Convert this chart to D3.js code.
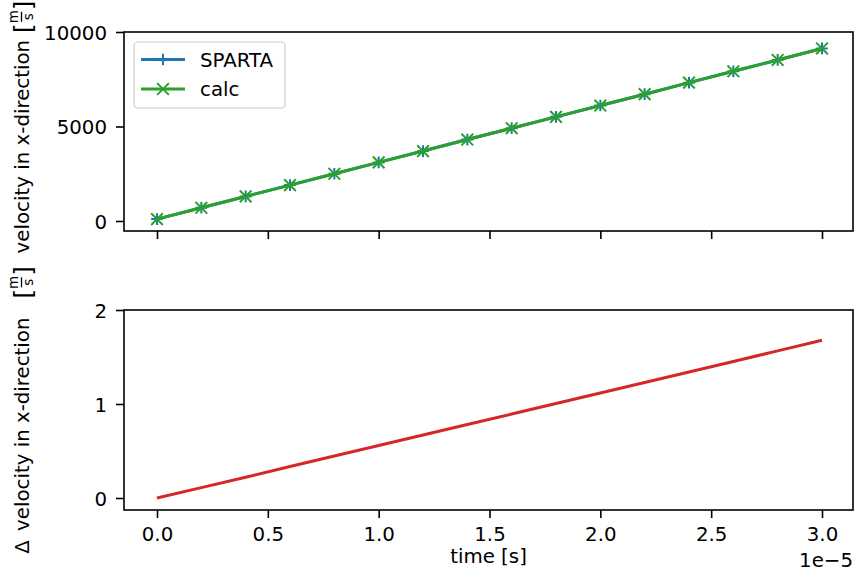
<!DOCTYPE html>
<html><head><meta charset="utf-8">
<script src="https://cdn.jsdelivr.net/npm/d3@7"></script>
<style>
body{margin:0;background:#fff;}
text{font-family:"DejaVu Sans",sans-serif;fill:#000;}
</style></head>
<body>
<svg id="c" width="855" height="574"></svg>
<script>
// ---- data ----
const time = [0, 2e-6, 4e-6, 6e-6, 8e-6, 1e-5, 1.2e-5, 1.4e-5, 1.6e-5, 1.8e-5, 2e-5, 2.2e-5, 2.4e-5, 2.6e-5, 2.8e-5, 3e-5];
const spartaVel = [100, 700, 1300, 1900, 2500, 3100, 3700, 4310, 4910, 5510, 6110, 6710, 7320, 7920, 8520, 9130];
const calcVel   = [100, 700, 1300, 1900, 2500, 3100, 3700, 4310, 4910, 5510, 6110, 6710, 7320, 7920, 8520, 9130];
const deltaVel  = [0, 0.11, 0.22, 0.335, 0.447, 0.558, 0.67, 0.782, 0.893, 1.005, 1.117, 1.228, 1.34, 1.452, 1.565, 1.678];
const xTicks = [0, 0.5e-5, 1e-5, 1.5e-5, 2e-5, 2.5e-5, 3e-5];
const yTicksTop = [0, 5000, 10000];
const yTicksBot = [0, 1, 2];
const seriesNames = ["SPARTA", "calc"];

const C = {blue:"#1f77b4", green:"#2ca02c", red:"#d62728"};
const FS = 19.8;
const svg = d3.select("#c");

const L = 124, R = 853;
const top1 = 32, bot1 = 231, top2 = 310, bot2 = 510;

// x: 0 -> 157px, 3e-5 -> 822px
const x = d3.scaleLinear().domain([(L-157)/(822-157)*3e-5, (R-157)/(822-157)*3e-5]).range([L, R]);
const yT = d3.scaleLinear().domain([(221-bot1)/189*10000, 10000]).range([bot1, top1]);
const yB = d3.scaleLinear().domain([(498-bot2)/94, 2]).range([bot2, top2]);

function axesFrame(top, bot, y, yt, showX){
  const g = svg.append("g");
  const ya = d3.axisLeft(y).tickValues(yt).tickSize(8).tickPadding(9).tickFormat(d3.format("d"));
  const gy = g.append("g").attr("transform",`translate(${L},0)`).call(ya);
  gy.select(".domain").remove();
  gy.selectAll("line").attr("stroke","#000").attr("stroke-width",1.6);
  gy.selectAll("text").attr("font-size",FS).attr("font-family","DejaVu Sans").attr("dy","0.36em");
  const xa = d3.axisBottom(x).tickValues(xTicks).tickSize(8).tickPadding(9).tickFormat(d=>(d/1e-5).toFixed(1));
  const gx = g.append("g").attr("transform",`translate(0,${bot})`).call(xa);
  gx.select(".domain").remove();
  gx.selectAll("line").attr("stroke","#000").attr("stroke-width",1.6);
  if(showX) gx.selectAll("text").attr("font-size",FS).attr("font-family","DejaVu Sans").attr("dy","0.72em");
  else gx.selectAll("text").remove();
  return g;
}
function spines(top, bot){
  svg.append("rect").attr("x",L).attr("y",top).attr("width",R-L).attr("height",bot-top)
    .attr("fill","none").attr("stroke","#000").attr("stroke-width",1.6);
}

// top plot
axesFrame(top1, bot1, yT, yTicksTop, false);
svg.append("clipPath").attr("id","cl1").append("rect").attr("x",L).attr("y",top1-8).attr("width",R-L).attr("height",bot1-top1+8);
const p1 = svg.append("g").attr("clip-path","url(#cl1)");
const line1 = d3.line().x((d,i)=>x(time[i])).y(d=>yT(d));
const ms = 5.85;
p1.append("path").datum(spartaVel).attr("d",line1).attr("fill","none").attr("stroke",C.blue).attr("stroke-width",3);
p1.selectAll(".plus").data(spartaVel).join("path")
  .attr("d",(d,i)=>{const cx=x(time[i]), cy=yT(d); return `M${cx-ms},${cy}H${cx+ms}M${cx},${cy-ms}V${cy+ms}`;})
  .attr("stroke",C.blue).attr("stroke-width",2).attr("fill","none");
p1.append("path").datum(calcVel).attr("d",line1).attr("fill","none").attr("stroke",C.green).attr("stroke-width",3);
p1.selectAll(".xm").data(calcVel).join("path")
  .attr("d",(d,i)=>{const cx=x(time[i]), cy=yT(d), s=ms; return `M${cx-s},${cy-s}L${cx+s},${cy+s}M${cx-s},${cy+s}L${cx+s},${cy-s}`;})
  .attr("stroke",C.green).attr("stroke-width",2).attr("fill","none");
spines(top1, bot1);

// legend
const lg = svg.append("g");
lg.append("rect").attr("x",134).attr("y",42).attr("width",151).attr("height",66).attr("rx",4)
  .attr("fill","#fff").attr("fill-opacity",0.8).attr("stroke","#cccccc").attr("stroke-width",1.2);
const legItems = [{n:seriesNames[0], c:C.blue, m:"plus", y:59.5},{n:seriesNames[1], c:C.green, m:"x", y:89}];
legItems.forEach(it=>{
  lg.append("line").attr("x1",141).attr("x2",185).attr("y1",it.y).attr("y2",it.y).attr("stroke",it.c).attr("stroke-width",3);
  const cx=163, cy=it.y, s=ms;
  const d = it.m==="plus" ? `M${cx-s},${cy}H${cx+s}M${cx},${cy-s}V${cy+s}` : `M${cx-s},${cy-s}L${cx+s},${cy+s}M${cx-s},${cy+s}L${cx+s},${cy-s}`;
  lg.append("path").attr("d",d).attr("stroke",it.c).attr("stroke-width",2).attr("fill","none");
  lg.append("text").attr("x",200).attr("y",it.y+7).attr("font-size",FS).text(it.n);
});

// bottom plot
axesFrame(top2, bot2, yB, yTicksBot, true);
svg.append("clipPath").attr("id","cl2").append("rect").attr("x",L).attr("y",top2).attr("width",R-L).attr("height",bot2-top2);
const p2 = svg.append("g").attr("clip-path","url(#cl2)");
p2.append("path").datum(deltaVel).attr("d",d3.line().x((d,i)=>x(time[i])).y(d=>yB(d)))
  .attr("fill","none").attr("stroke",C.red).attr("stroke-width",3);
spines(top2, bot2);

// x label + offset
svg.append("text").attr("x",(L+R)/2).attr("y",563).attr("text-anchor","middle").attr("font-size",FS).text("time [s]");
svg.append("text").attr("x",853).attr("y",567).attr("text-anchor","end").attr("font-size",FS).text("1e\u22125");

// y labels with fraction units
function yLabel(parts, cy, extraWord, extraFrac){
  const g = svg.append("g").attr("transform",`translate(29,${cy}) rotate(-90)`);
  let pos = 0;
  const items = [];
  parts.forEach((p,i)=>{
    const t = g.append("text").attr("y",0).attr("font-size",FS).text(p);
    const w = t.node().getComputedTextLength();
    items.push({t, x:pos});
    pos += w + (i < parts.length-1 ? 6.3 + extraWord : 0);
  });
  const gap = 7 + extraFrac;
  const fr = g.append("g");
  const b1 = fr.append("text").attr("x",0).attr("y",2.5).attr("font-size",FS*1.25).text("[");
  const bw = b1.node().getComputedTextLength();
  const fx = bw + 1.5, fw = 10;
  fr.append("text").attr("x",fx+fw/2).attr("y",-11).attr("text-anchor","middle").attr("font-size",FS*0.68).text("m");
  fr.append("line").attr("x1",fx).attr("x2",fx+fw).attr("y1",-7.5).attr("y2",-7.5).attr("stroke","#000").attr("stroke-width",1.3);
  fr.append("text").attr("x",fx+fw/2).attr("y",3.5).attr("text-anchor","middle").attr("font-size",FS*0.68).text("s");
  fr.append("text").attr("x",fx+fw+1.5).attr("y",2.5).attr("font-size",FS*1.25).text("]");
  const total = pos + gap + bw + 3 + fw + bw;
  items.forEach(it=>it.t.attr("x", -total/2 + it.x));
  fr.attr("transform",`translate(${-total/2 + pos + gap},0)`);
}
yLabel(["velocity in x-direction"], 127, 0, 0);
yLabel(["\u0394", "velocity in x-direction"], 410, 3, 12);
</script>
</body></html>
